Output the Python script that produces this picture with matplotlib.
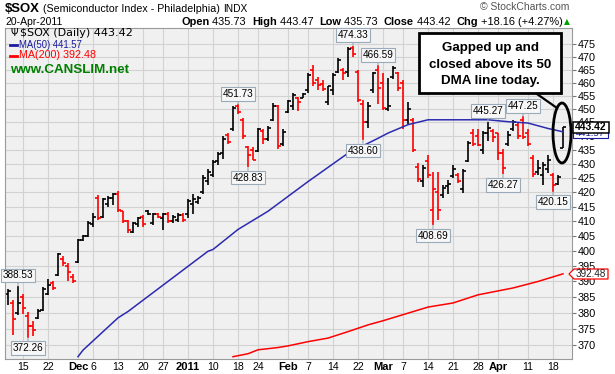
import numpy as np
import matplotlib
matplotlib.use("Agg")
import matplotlib.pyplot as plt
from matplotlib.patches import Ellipse, Rectangle, Polygon

plt.rcParams['font.family'] = ['Liberation Sans', 'DejaVu Sans']

# Daily OHLC, 10-Nov-2010 .. 20-Apr-2011 (one row per trading day)
opens = [386.0, 383.0, 380.0, 385.0, 379.0, 376.0, 378.5, 381.0, 386.0, 389.5,
         392.0, 397.5, 395.0, 391.5, 396.5, 403.5, 405.0, 409.0, 418.0, 411.5,
         416.0, 418.0, 419.5, 413.5, 410.0, 406.5, 409.0, 411.5, 413.5, 409.5,
         412.5, 411.0, 412.5, 410.0, 410.5, 412.0, 412.5, 416.0, 416.5, 420.0,
         424.0, 426.0, 431.0, 434.0, 440.5, 442.5, 451.0, 446.0, 436.0, 435.0,
         434.5, 442.0, 439.0, 446.0, 451.0, 437.0, 449.0, 451.0, 454.0, 454.2,
         457.0, 465.0, 461.0, 459.5, 452.5, 457.0, 464.0, 465.0, 464.0, 473.5,
         464.0, 452.0, 445.0, 457.0, 465.0, 460.0, 450.0, 462.0, 463.5, 460.0,
         446.0, 446.0, 429.0, 424.0, 431.0, 414.0, 420.0, 419.0, 422.0, 425.5,
         426.0, 421.0, 431.0, 441.0, 440.0, 435.0, 441.0, 442.0, 441.0, 434.0,
         437.0, 442.5, 444.0, 446.0, 441.0, 432.0, 427.0, 426.0, 428.0, 426.0,
         423.0, 435.73]
highs = [387.7, 384.1, 388.53, 385.9, 380.3, 377.3, 381.1, 388.1, 390.8, 390.0,
         399.3, 398.4, 396.0, 392.5, 404.0, 405.5, 410.0, 412.8, 419.0, 418.0,
         418.5, 419.8, 420.5, 413.5, 410.4, 409.9, 411.6, 412.2, 413.9, 412.8,
         412.8, 412.8, 413.3, 412.2, 412.8, 412.8, 417.5, 419.2, 418.5, 426.0,
         428.3, 431.2, 434.2, 440.0, 441.3, 451.0, 451.73, 446.7, 436.5, 435.9,
         443.1, 442.5, 443.7, 452.2, 451.6, 442.5, 453.5, 456.0, 454.7, 456.0,
         463.6, 466.8, 462.3, 461.0, 458.8, 463.6, 469.4, 465.5, 473.9, 474.33,
         464.9, 453.5, 452.8, 464.2, 466.59, 463.6, 461.7, 466.5, 464.2, 461.0,
         452.8, 446.7, 430.3, 429.7, 433.0, 427.1, 427.0, 422.5, 424.2, 429.4,
         426.6, 428.3, 438.3, 442.5, 442.5, 441.9, 445.27, 442.5, 441.3, 435.3,
         441.9, 446.1, 445.0, 447.25, 442.5, 433.0, 431.2, 430.6, 433.0, 426.6,
         426.0, 443.47]
lows = [382.4, 373.1, 379.3, 379.5, 372.26, 372.7, 378.0, 380.5, 385.8, 387.4,
        391.7, 394.9, 390.3, 389.5, 396.0, 403.2, 404.5, 408.2, 410.5, 411.1,
        415.0, 415.6, 413.3, 409.4, 406.0, 406.0, 408.2, 408.2, 412.2, 408.8,
        411.1, 407.1, 409.4, 409.4, 409.9, 409.9, 411.0, 412.5, 416.0, 419.2,
        422.5, 425.4, 429.4, 431.8, 437.1, 441.9, 448.0, 438.9, 428.83, 431.2,
        434.2, 437.1, 438.3, 445.5, 435.3, 436.5, 448.6, 449.8, 449.2, 454.1,
        456.0, 458.5, 457.2, 456.6, 451.6, 455.4, 463.6, 461.0, 462.3, 470.0,
        452.8, 438.6, 443.1, 456.0, 452.0, 449.8, 449.2, 461.5, 456.6, 442.5,
        444.3, 434.2, 423.6, 421.8, 424.8, 408.69, 410.4, 418.0, 419.2, 424.8,
        423.1, 419.8, 430.6, 436.5, 436.5, 433.6, 438.3, 437.7, 431.2, 426.27,
        436.5, 441.9, 438.9, 438.9, 436.5, 425.4, 426.0, 422.5, 426.6, 420.15,
        422.5, 435.73]
closes = [387.0, 378.0, 383.0, 381.5, 376.0, 374.5, 380.5, 387.5, 389.0, 388.0,
          399.0, 396.0, 393.0, 390.3, 403.5, 405.0, 409.5, 411.5, 411.0, 417.5,
          418.0, 419.5, 414.0, 410.0, 407.0, 409.5, 411.0, 409.0, 412.4, 412.6,
          411.5, 412.5, 410.0, 411.5, 412.0, 410.5, 417.0, 417.5, 418.0, 425.0,
          427.0, 430.5, 433.5, 439.0, 438.0, 450.3, 449.0, 440.0, 433.0, 431.5,
          442.5, 439.0, 443.0, 451.0, 436.5, 441.5, 453.0, 455.2, 452.5, 455.8,
          463.0, 460.0, 459.0, 457.5, 458.5, 463.0, 468.8, 463.5, 473.0, 471.0,
          453.5, 445.0, 451.0, 463.5, 458.0, 450.5, 451.0, 465.5, 458.0, 446.0,
          450.0, 435.0, 424.5, 428.5, 426.0, 421.0, 414.0, 421.5, 423.0, 428.0,
          424.0, 427.5, 437.5, 437.0, 436.8, 441.0, 443.0, 439.5, 434.0, 428.5,
          440.5, 445.0, 440.0, 439.5, 437.0, 426.5, 428.5, 429.5, 431.5, 422.5,
          425.26, 443.42]

# moving averages (bar index, value)
ma50_idx = [14, 15, 22, 24, 40, 41, 46, 52, 60, 68, 74, 76, 80, 84, 96, 100, 104, 108, 111]
ma50_val = [366.4, 368.4, 378.4, 380.4, 399.9, 400.5, 407.2, 413.4, 423.7, 433.8,
            439.2, 441.1, 444.2, 446.0, 446.0, 445.3, 444.8, 442.8, 441.57]
ma200_idx = [45, 48, 50, 54, 56, 60, 64, 68, 72, 75, 79, 84, 89, 94, 101, 106, 111]
ma200_val = [366.4, 367.3, 368.5, 369.2, 369.7, 371.0, 372.1, 374.1, 376.2, 377.5,
             379.4, 381.8, 383.1, 385.7, 387.9, 390.0, 392.48]

# x-axis labels (bar index, text)
tick_idx = [3, 8, 14, 17, 22, 27, 31, 36, 41, 46, 50, 56, 60, 65, 70, 75, 79, 84,
            89, 94, 98, 104, 109]
tick_txt = ['15', '22', 'Dec', '6', '13', '20', '27', '2011', '10', '18', '24',
            'Feb', '7', '14', '22', 'Mar', '7', '14', '21', '28', 'Apr', '11', '18']
tick_bold = {'Dec', '2011', 'Feb', 'Mar', 'Apr'}

# price annotations (bar index, value, above?)
notes = [(2, 388.53, True), (4, 372.26, False), (46, 451.73, True), (48, 428.83, False),
         (69, 474.33, True), (71, 438.60, False), (74, 466.59, True), (85, 408.69, False),
         (96, 445.27, True), (99, 426.27, False), (103, 447.25, True), (109, 420.15, False)]

W, H = 615, 374
fig = plt.figure(figsize=(W / 100, H / 100), dpi=100)
rend = fig.canvas.get_renderer()


def fx(px):
    return px / W


def fy(py):
    return 1 - py / H


def fit_text(x, y, s, width, size=9, **kw):
    # place text at pixel x (left), pixel y (centre) and scale it to a pixel width
    t = fig.text(fx(x), fy(y), s, fontsize=size, va='center', **kw)
    w = t.get_window_extent(rend).width
    t.set_fontsize(size * width / w)
    return t


ax = fig.add_axes([fx(5), fy(359), (572 - 5) / W, (359 - 28) / H])
ax.set_facecolor('#f0f0f0')
ax.set_yscale('log')
ax.set_xlim(-0.6, 112.8)
ax.set_ylim(365.7, 481.3)

yt = np.arange(370, 476, 5)
ax.set_yticks(yt)
ax.set_yticklabels([str(v) for v in yt])
ax.yaxis.set_minor_locator(plt.NullLocator())
ax.yaxis.tick_right()
ax.tick_params(axis='y', length=3, width=0.8, color='#777777', labelsize=7.8, pad=1)
ax.set_xticks(tick_idx)
ax.set_xticklabels(tick_txt, fontsize=7.6)
for lab in ax.get_xticklabels():
    if lab.get_text() in tick_bold:
        lab.set_fontweight('bold')
        lab.set_fontsize(8)
ax.tick_params(axis='x', length=0, pad=2.5)
ax.grid(True, color='#d2d2d2', linewidth=0.8)
ax.set_axisbelow(True)
for s in ax.spines.values():
    s.set_color('#9a9a9a')
    s.set_linewidth(0.8)

# OHLC bars, red when the close is below the prior close
idx = np.arange(len(closes))
prev = np.r_[closes[0], closes[:-1]]
cols = np.where(np.array(closes) < prev, '#ff0000', '#000000')
ax.vlines(idx, lows, highs, colors=cols, linewidth=1.2)
ax.hlines(opens, idx - 0.55, idx, colors=cols, linewidth=1.2)
ax.hlines(closes, idx, idx + 0.55, colors=cols, linewidth=1.2)

ax.plot(ma50_idx, ma50_val, color='#2b2bb0', linewidth=1.1)
ax.plot(ma200_idx, ma200_val, color='#ff0000', linewidth=1.1)

for i, v, up in notes:
    dy = 4 if up else -4
    ax.annotate(f'{v:.2f}', xy=(i, v), xytext=(0, dy), textcoords='offset points',
                ha='center', va='bottom' if up else 'top', fontsize=7.2,
                bbox=dict(boxstyle='square,pad=0.18', fc='#f7f7f7', ec='#9aaab8', lw=0.8),
                arrowprops=dict(arrowstyle='-', color='#9aaab8', lw=0.8,
                                shrinkA=0, shrinkB=0))

# legend inside the chart
fig.text(fx(10), fy(33.5), '\u03a8', fontsize=7, va='center', family=['DejaVu Sans'])
fit_text(20, 33.5, '$SOX (Daily) 443.42', 113, family=['DejaVu Sans'])
fig.lines.append(plt.Line2D([fx(10), fx(17)], [fy(45), fy(45)], transform=fig.transFigure,
                            color='#1a1aa0', lw=2))
fit_text(19, 45, 'MA(50) 441.57', 63, color='#1a1aa0')
fig.lines.append(plt.Line2D([fx(10), fx(17)], [fy(55.5), fy(55.5)], transform=fig.transFigure,
                            color='#ff0000', lw=2))
fit_text(19, 55.5, 'MA(200) 392.48', 77, color='#ff0000')
fit_text(10, 70, 'www.CANSLIM.net', 120, color='#008000', fontweight='bold')

# right-hand value tags (443.42 drawn over 441.57)
fig.patches.append(Rectangle((fx(573), fy(138)), 35 / W, 10 / H, transform=fig.transFigure,
                             fc='white', ec='#1a1aa0', lw=0.8, zorder=10))
fit_text(576, 133, '441.57', 29, color='#1a1aa0', zorder=11)
fig.patches.append(Rectangle((fx(573), fy(133)), 36 / W, 11 / H, transform=fig.transFigure,
                             fc='white', ec='black', lw=1.1, zorder=12))
fit_text(575, 127.5, '443.42', 32, fontweight='bold', zorder=13)
fig.patches.append(Polygon([(fx(569), fy(274)), (fx(574), fy(269)), (fx(608), fy(269)),
                            (fx(608), fy(279)), (fx(574), fy(279))], closed=True,
                           transform=fig.transFigure, fc='white', ec='#ff0000', lw=0.9,
                           zorder=10))
fit_text(576, 274, '392.48', 30, color='#222222', zorder=11)

# callout
fig.patches.append(Rectangle((fx(419), fy(93)), 142 / W, 60 / H,
                             transform=fig.transFigure, fc='white', ec='black',
                             lw=2, zorder=5))
for k, line in enumerate(['Gapped up and', 'closed above its 50', 'DMA line today.']):
    fig.text(fx(490), fy(48 + 16.5 * k), line, ha='center', va='center', fontsize=9.6,
             fontweight='bold', zorder=6)
fig.lines.append(plt.Line2D([fx(537), fx(557)], [fy(94), fy(108)],
                            transform=fig.transFigure, color='black', lw=1.6))
fig.patches.append(Ellipse((fx(562), fy(133)), 18 / W, 60 / H,
                           transform=fig.transFigure, fill=False, ec='black', lw=2))

# header
fit_text(5, 9, '$SOX', 35, size=11, fontweight='bold')
fit_text(43, 9, '(Semiconductor Index - Philadelphia)', 175)
fit_text(223, 9.5, 'INDX', 24)
fit_text(5, 22, '20-Apr-2011', 57)
fit_text(480, 7.5, '\u00a9 StockCharts.com', 90, color='#555555')

x = 181.0
pieces = [('Open', True), (' 435.73  ', False), ('High', True), (' 443.47  ', False),
          ('Low', True), (' 435.73  ', False), ('Close', True), (' 443.42  ', False),
          ('Chg', True), (' +18.16 (+4.27%)', False)]
ts = []
for s, b in pieces:
    t = fig.text(fx(x), fy(22), s, fontsize=9, va='center',
                 fontweight='bold' if b else 'normal')
    ts.append(t)
    x = t.get_window_extent(rend).x1
scale = (562 - 181) / (x - 181)
x = 181.0
for t in ts:
    t.set_fontsize(9 * scale)
    t.set_x(fx(x))
    x = t.get_window_extent(rend).x1
fig.text(fx(564), fy(22), '\u25b2', fontsize=5.5, va='center', color='#00a000',
         family=['DejaVu Sans'])

fig.savefig('out.png', dpi=100)
